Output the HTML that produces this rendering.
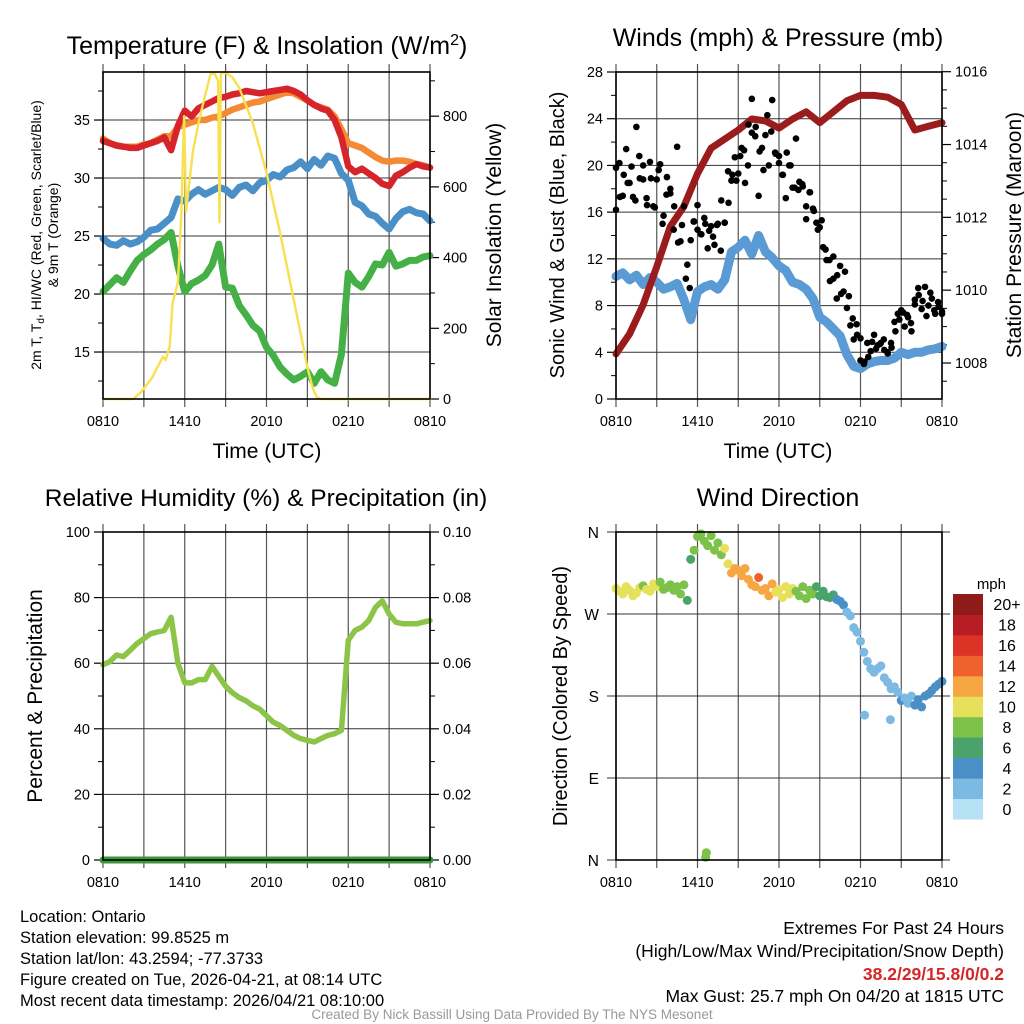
<!DOCTYPE html>
<html><head><meta charset="utf-8"><style>
html,body{margin:0;padding:0;background:#fff;}
svg{display:block;font-family:"Liberation Sans",sans-serif;}
</style></head><body>
<svg id="fig" width="1024" height="1024" viewBox="0 0 1024 1024" xmlns="http://www.w3.org/2000/svg">
<rect width="1024" height="1024" fill="#fff"/>
<text x="267" y="54" font-size="25" text-anchor="middle">Temperature (F) &amp; Insolation (W/m<tspan dy="-9" font-size="16">2</tspan><tspan dy="9">)</tspan></text>
<text x="778" y="46" font-size="25" text-anchor="middle">Winds (mph) &amp; Pressure (mb)</text>
<text x="266" y="506" font-size="24.5" text-anchor="middle">Relative Humidity (%) &amp; Precipitation (in)</text>
<text x="778" y="506" font-size="25" text-anchor="middle">Wind Direction</text>

<text transform="translate(41,235) rotate(-90)" font-size="14" text-anchor="middle">2m T, T<tspan font-size="10" dy="3">d</tspan><tspan dy="-3">, HI/WC (Red, Green, Scarlet/Blue)</tspan></text>
<text transform="translate(58,235) rotate(-90)" font-size="14" text-anchor="middle">&amp; 9m T (Orange)</text>
<text transform="translate(501,235) rotate(-90)" font-size="21" text-anchor="middle">Solar Insolation (Yellow)</text>
<text x="267" y="458" font-size="21" text-anchor="middle">Time (UTC)</text>
<text transform="translate(564,235) rotate(-90)" font-size="20" text-anchor="middle">Sonic Wind &amp; Gust (Blue, Black)</text>
<text transform="translate(1021,235) rotate(-90)" font-size="21" text-anchor="middle">Station Pressure (Maroon)</text>
<text x="778" y="458" font-size="21" text-anchor="middle">Time (UTC)</text>
<text transform="translate(42,696) rotate(-90)" font-size="21" text-anchor="middle">Percent &amp; Precipitation</text>
<text transform="translate(567,696) rotate(-90)" font-size="20" text-anchor="middle">Direction (Colored By Speed)</text>
<text x="1006" y="589" font-size="15" text-anchor="end">mph</text>

<g font-size="16.5">
<text x="20" y="922">Location: Ontario</text>
<text x="20" y="943">Station elevation: 99.8525 m</text>
<text x="20" y="964">Station lat/lon: 43.2594; -77.3733</text>
<text x="20" y="985">Figure created on Tue, 2026-04-21, at 08:14 UTC</text>
<text x="20" y="1006">Most recent data timestamp: 2026/04/21 08:10:00</text>
</g>
<g font-size="17.5" text-anchor="end">
<text x="1004" y="934">Extremes For Past 24 Hours</text>
<text x="1004" y="957">(High/Low/Max Wind/Precipitation/Snow Depth)</text>
<text x="1004" y="980" fill="#d62728" font-weight="bold">38.2/29/15.8/0/0.2</text>
<text x="1004" y="1002">Max Gust: 25.7 mph On 04/20 at 1815 UTC</text>
</g>
<text x="512" y="1019" font-size="13.5" fill="#999" text-anchor="middle">Created By Nick Bassill Using Data Provided By The NYS Mesonet</text>
</svg>
<script>
const tempRed=[33.2,33.0,32.8,32.7,32.6,32.6,32.8,33.0,33.2,33.5,32.4,34.5,35.8,35.3,36.0,36.3,36.6,36.9,37.0,37.2,37.3,37.5,37.4,37.3,37.4,37.5,37.6,37.7,37.5,37.2,36.7,36.3,36.0,35.8,35.0,33.5,31.0,30.5,30.8,30.4,30.0,29.5,29.3,30.2,30.5,30.9,31.2,31.0,30.9];
const tempOrange=[33.4,33.0,32.8,32.7,32.7,32.7,32.9,33.0,33.3,33.6,33.6,34.4,34.6,34.8,35.0,35.0,35.2,35.3,35.6,35.9,36.1,36.3,36.5,36.6,36.8,37.0,37.2,37.4,37.3,37.0,36.7,36.3,36.1,35.9,35.3,34.2,33.0,32.8,32.6,32.2,31.8,31.5,31.4,31.5,31.5,31.4,31.2,31.1,30.9];
const tempBlue=[24.8,24.3,24.2,24.6,24.3,24.5,24.9,25.5,25.6,26.1,26.6,28.2,28.0,28.6,29.0,28.6,28.9,29.2,29.0,28.5,29.2,29.4,28.9,29.6,29.8,30.3,30.1,30.7,30.9,31.4,30.8,31.6,31.1,31.9,31.7,30.4,29.8,27.9,27.6,26.9,26.7,26.1,25.6,26.5,27.1,27.3,27.0,26.9,26.3];
const tempGreen=[20.2,20.8,21.4,21.0,22.0,22.9,23.4,23.8,24.3,24.7,25.3,22.4,20.2,20.9,21.2,21.6,22.5,24.3,20.6,20.5,19.0,18.2,17.3,16.8,15.4,14.7,13.7,13.1,12.6,12.9,13.3,12.3,13.3,12.6,12.3,14.8,21.8,21.0,20.6,21.5,22.6,22.5,23.6,22.4,22.6,22.9,22.9,23.2,23.3];
const solarHours=[0,2.2,2.8,3.2,3.6,4.0,4.4,4.6,4.9,5.1,5.3,5.5,5.75,5.95,6.1,6.3,6.6,7.0,7.5,7.9,8.2,8.45,8.55,8.65,8.9,9.5,10,11,12,13,14,15,15.4,15.7,16,24];
const solarVals=[0,0,20,40,60,90,120,110,150,270,300,330,520,800,530,600,700,780,860,920,920,900,500,920,925,910,880,780,640,470,280,90,30,5,0,0];
const pressure=[1008.25,1008.8,1009.6,1010.65,1011.75,1012.3,1013.2,1013.9,1014.15,1014.4,1014.7,1014.65,1014.45,1014.7,1014.9,1014.6,1014.9,1015.2,1015.35,1015.35,1015.3,1015.1,1014.4,1014.5,1014.6];
const windSpeed=[10.5,10.8,10.2,10.6,9.8,10.4,10.0,9.4,9.6,9.9,8.5,6.8,9.2,9.6,9.8,9.4,10.2,12.6,13.0,13.6,12.4,14.0,12.6,12.1,11.4,11.0,10.0,9.8,9.4,8.6,7.0,6.6,6.0,5.4,3.8,2.8,2.6,3.0,3.2,3.3,3.3,3.5,4.0,3.8,4.0,4.0,4.2,4.3,4.5];
const gustVals=[16.2,20.2,17.4,21.4,18.5,17.3,23.3,18.9,20.0,17.2,20.3,16.5,18.8,20.1,15.7,19.0,17.6,14.5,21.6,13.5,16.5,11.5,13.6,15.2,16.6,14.1,15.5,12.9,14.8,13.2,15.0,17.0,15.1,19.5,18.7,20.7,19.3,21.5,18.5,23.5,25.7,22.5,17.4,21.5,22.6,20.0,25.6,21.0,20.2,19.2,17.2,20.0,18.1,22.3,18.6,18.2,15.4,17.7,16.3,15.1,14.7,13.0,11.9,10.1,10.3,8.6,11.4,9.2,7.8,6.3,5.1,5.5,3.3,3.0,4.8,4.1,5.5,4.6,4.8,4.2,3.9,4.8,6.6,7.3,7.6,6.2,7.0,5.8,8.5,9.5,7.7,9.6,8.0,8.6,7.3,7.9,7.5];
const gustVals2=[19.8,17.3,19.2,18.5,19.9,17.0,20.8,18.8,16.6,18.9,16.4,19.6,15.0,17.5,18.0,16.5,13.4,14.9,10.3,9.5,15.2,14.5,14.1,15.0,14.4,13.9,14.9,12.7,15.1,16.8,19.2,18.7,20.8,21.3,20.0,22.8,23.3,21.2,19.6,24.3,22.9,21.1,20.8,19.2,21.1,20.0,18.1,17.9,18.4,16.5,17.7,16.1,14.5,15.3,12.8,11.9,12.2,10.6,9.0,10.9,8.8,6.9,6.4,5.2,3.2,3.6,4.9,4.3,4.7,5.1,4.0,4.4,5.8,6.8,7.4,7.2,6.5,8.1,8.9,8.4,7.1,9.1,7.6,8.3,7.3];
const rhVals=[59.5,60.5,62.5,62,64,66,67.5,69,69.5,70,74,60,54,54,55,55,59,56,53,51,49.5,48.5,47,46,44,42,41,39.5,38,37,36.5,36,37,38,38.5,39.5,67,70,71,73,77,79,75,72.5,72,72,72,72.5,73];
const precipVals=[0,0,0,0,0,0,0,0,0,0,0,0,0,0,0,0,0,0,0,0,0,0,0,0,0];
const dirDeg=[298,295,292,300,296,290,293,299,301,297,295,303,300,305,297,299,302,296,300,292,302,285,330,340,355,358,350,345,356,340,348,335,342,325,315,320,318,312,320,308,302,300,310,296,298,290,303,294,297,288,300,292,298,295,290,300,287,296,292,300,290,295,289,288,291,286,284,280,272,268,255,250,240,228,218,210,206,210,213,200,195,188,190,184,175,178,172,180,170,176,168,180,182,186,190,193,196];
const dirOutHours=[6.6,6.65,18.3,20.2];
const dirOutDeg=[3,8,159,154];
const dirOutSpeed=[8.5,8.5,2.5,2.5];
const colorBins=['#b6e2f6','#7dbae3','#4a8fc6','#49a36b','#7cc14a','#e6e05a','#f6a744','#f0622d','#dc3327','#b81d24','#8e1a1a'];
const binLabels=['0','2','4','6','8','10','12','14','16','18','20+'];
const xLabels=['0810','1410','2010','0210','0810'];

const svg=document.getElementById('fig');
const NS='http://www.w3.org/2000/svg';
function mk(tag,attrs){const e=document.createElementNS(NS,tag);for(const k in attrs)e.setAttribute(k,attrs[k]);svg.appendChild(e);return e;}
function lin(d0,d1,r0,r1){return v=>r0+(v-d0)*(r1-r0)/(d1-d0);}
function pathD(xs,ys){return xs.map((x,i)=>(i?'L':'M')+x.toFixed(1)+','+ys[i].toFixed(1)).join('');}

function frame(L,R,T,B,name){
  const xs=lin(0,24,L,R);
  for(let h=0;h<=24;h+=3){
    const g=mk('line',{x1:xs(h),x2:xs(h),y1:T-8,y2:B+8,stroke:'#555','stroke-width':1.2});
    
    
  }
  xLabels.forEach((t,i)=>{
    const tx=mk('text',{x:xs(i*6),y:B+27,'font-size':14.5,'text-anchor':'middle'});
    tx.textContent=t;
    
    
  });
  return xs;
}
function border(L,R,T,B,name){
  const r=mk('rect',{x:L,y:T,width:R-L,height:B-T,fill:'none',stroke:'#000','stroke-width':1.6});
  
  
}
function yAxis(scale,vals,minor,x,side,name,grid,L,R,fmt){
  const dir=side==='left'?-1:1;
  minor.forEach(v=>{
    const t=mk('line',{x1:x,x2:x+dir*5,y1:scale(v),y2:scale(v),stroke:'#000','stroke-width':1});
    
    
  });
  vals.forEach(v=>{
    const y=scale(v);
    if(grid){const g=mk('line',{x1:L,x2:R,y1:y,y2:y,stroke:'#333','stroke-width':1});
      
      }
    const t=mk('line',{x1:x,x2:x+dir*9,y1:y,y2:y,stroke:'#000','stroke-width':1.2});
    
    
    const tx=mk('text',{x:x+dir*13,y:y+5,'font-size':14.5,'text-anchor':side==='left'?'end':'start'});
    tx.textContent=fmt?fmt(v):v;
    
    
  });
}
function series(xs,ys,hours,vals,color,w,name){
  const p=mk('path',{d:pathD(hours.map(xs),vals.map(ys)),fill:'none',stroke:color,'stroke-width':w,'stroke-linejoin':'round','stroke-linecap':'round'});
  
  
}
const half=n=>Array.from({length:n},(_,i)=>i*24/(n-1));

{const L=103,R=430,T=72,B=399;
 const xs=frame(L,R,T,B,'temp');
 const yT=lin(10.95,39.14,B,T), yS=lin(0,925,B,T);
 yAxis(yT,[15,20,25,30,35],[12.5,17.5,22.5,27.5,32.5,37.5],L,'left','temp',true,L,R);
 yAxis(yS,[0,200,400,600,800],[100,300,500,700,900],R,'right','solar',false,L,R);
 const hh=half(49);
 series(xs,yT,hh,tempOrange,'#f58a35',6.5,'orange-9m-temp-line');
 series(xs,yT,hh,tempRed,'#d7242a',6.5,'red-2m-temp-line');
 series(xs,yT,hh,tempBlue,'#4a90c8',7,'blue-windchill-line');
 series(xs,yT,hh,tempGreen,'#45b045',7,'green-dewpoint-line');
 series(xs,yS,solarHours,solarVals,'#f8e050',2.4,'yellow-solar-line');
 border(L,R,T,B,'temp');}

{const L=616,R=942,T=72,B=399;
 const xs=frame(L,R,T,B,'wind');
 const yW=lin(0,28,B,T), yP=lin(1016,1008,71.7,363);
 yAxis(yW,[0,4,8,12,16,20,24,28],[2,6,10,14,18,22,26],L,'left','wind',true,L,R);
 yAxis(yP,[1008,1010,1012,1014,1016],[1007.5,1008.5,1009,1009.5,1010.5,1011,1011.5,1012.5,1013,1013.5,1014.5,1015,1015.5],R,'right','pressure',false,L,R);
 series(xs,yW,half(49),windSpeed,'#5b9bd5',9,'blue-wind-speed-line');
 series(xs,yP,half(25),pressure,'#9b1c1c',7,'maroon-pressure-line');
 const gh=half(97);
 gustVals.forEach((v,i)=>{
   const c=mk('circle',{cx:xs(gh[i]),cy:yW(v),r:3.3,fill:'#000'});
   
   
 });
 const gh2=half(gustVals2.length);
 gustVals2.forEach((v,i)=>{
   const c=mk('circle',{cx:xs(gh2[i]),cy:yW(v),r:3.3,fill:'#000'});
   
   
 });
 border(L,R,T,B,'wind');}

{const L=103,R=430,T=532,B=860;
 const xs=frame(L,R,T,B,'rh');
 const yR=lin(0,100,B,T), yPr=lin(0,0.1,B,T);
 yAxis(yR,[0,20,40,60,80,100],[10,30,50,70,90],L,'left','rh',true,L,R);
 yAxis(yPr,[0,0.02,0.04,0.06,0.08,0.1],[0.01,0.03,0.05,0.07,0.09],R,'right','precip',false,L,R,v=>v.toFixed(2));
 series(xs,yR,half(49),rhVals,'#8cc447',5.5,'rh-line');
 series(xs,yPr,half(25),precipVals,'#3a9a3a',7,'precip-line');
 border(L,R,T,B,'rh');}

{const L=616,R=942,T=532,B=860;
 const xs=frame(L,R,T,B,'dir');
 const yD=lin(0,360,B,T);
 const labs=['N','E','S','W','N'];
 [0,90,180,270,360].forEach((v,i)=>{
   const y=yD(v);
   const g=mk('line',{x1:L-9,x2:R+8,y1:y,y2:y,stroke:'#333','stroke-width':1});
   
   
   const t=mk('text',{x:L-17,y:y+6,'font-size':15.5,'text-anchor':'end'});
   t.textContent=labs[i];
   
   
 });
 const colorOf=s=>colorBins[Math.max(0,Math.min(10,Math.floor(s/2)))];
 const hh=half(97);
 dirDeg.forEach((d,i)=>{
   const h=hh[i];
   const k=Math.min(47,Math.floor(h*2));
   const f=h*2-k;
   const s=windSpeed[k]*(1-f)+windSpeed[Math.min(48,k+1)]*f;
   const c=mk('circle',{cx:xs(h),cy:yD(d),r:4.5,fill:colorOf(s)});
   
   
 });
 dirOutHours.forEach((h,i)=>{
   const c=mk('circle',{cx:xs(h),cy:yD(dirOutDeg[i]),r:4.5,fill:colorOf(dirOutSpeed[i])});
   
   
 });
 border(L,R,T,B,'dir');
 const cbT=594,cbB=819,n=colorBins.length,hgt=(cbB-cbT)/n;
 colorBins.forEach((col,i)=>{
   const y=cbB-(i+1)*hgt;
   const r=mk('rect',{x:953,y:y,width:30,height:hgt+0.5,fill:col});
   
   
   const t=mk('text',{x:1007,y:y+hgt/2+6,'font-size':16,'text-anchor':'middle'});
   t.textContent=binLabels[i];
   
   
 });}
</script>
</body></html>
